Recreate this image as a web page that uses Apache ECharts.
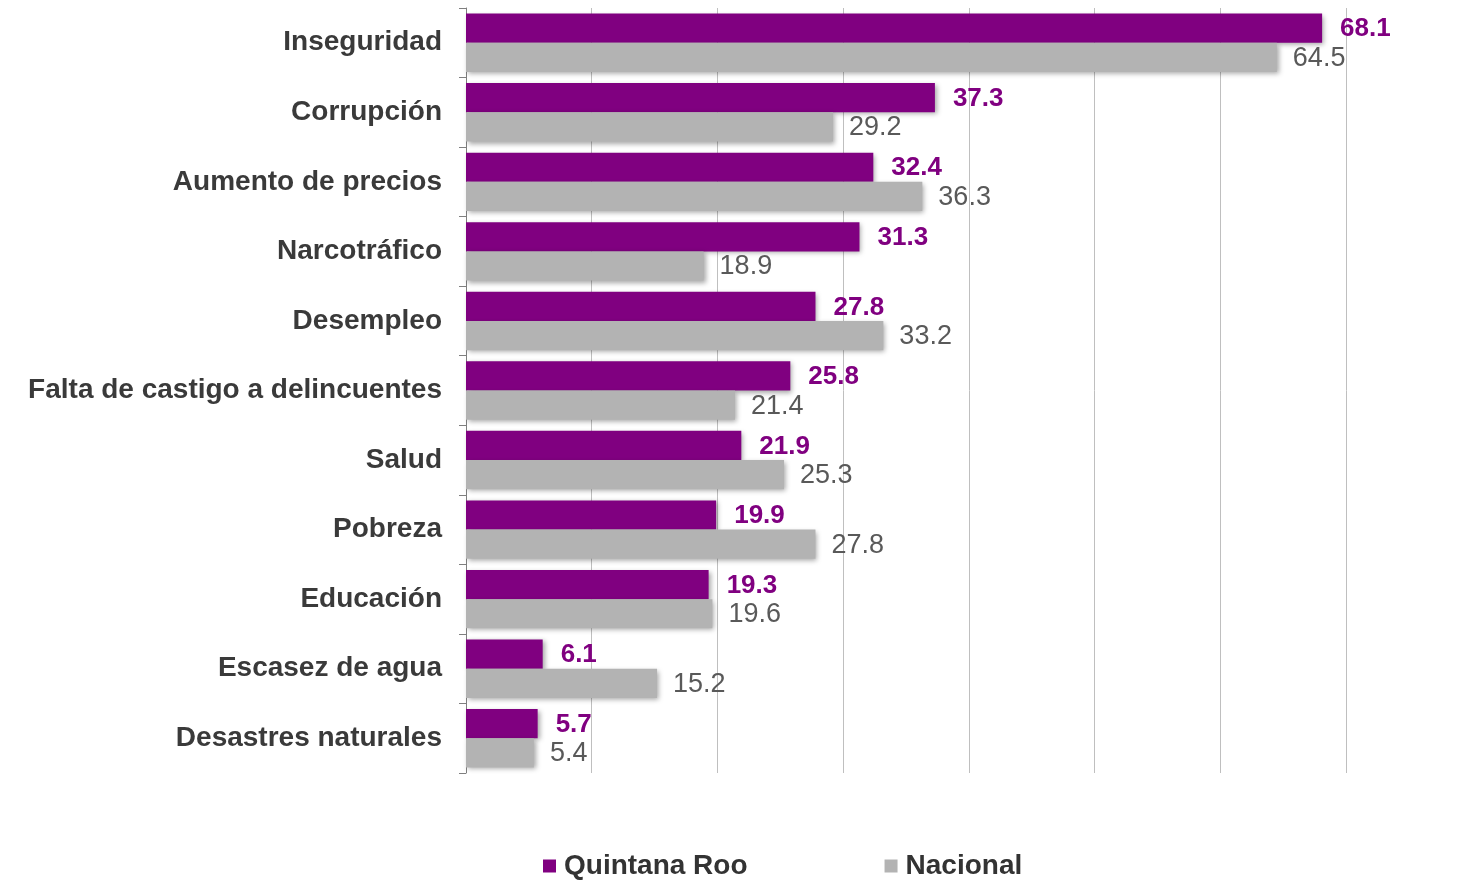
<!DOCTYPE html>
<html>
<head>
<meta charset="utf-8">
<script src="https://cdn.jsdelivr.net/npm/echarts@6/dist/echarts.min.js"></script>
<style>
  html, body { margin: 0; padding: 0; background: #fff; }
  #chart { width: 1458px; height: 881px; }
</style>
</head>
<body>
<div id="chart"></div>
<script>
var categories = ['Inseguridad', 'Corrupción', 'Aumento de precios', 'Narcotráfico', 'Desempleo',
    'Falta de castigo a delincuentes', 'Salud', 'Pobreza', 'Educación', 'Escasez de agua', 'Desastres naturales'];
var quintanaRoo = [68.1, 37.3, 32.4, 31.3, 27.8, 25.8, 21.9, 19.9, 19.3, 6.1, 5.7];
var nacional = [64.5, 29.2, 36.3, 18.9, 33.2, 21.4, 25.3, 27.8, 19.6, 15.2, 5.4];

var chart = echarts.init(document.getElementById('chart'));
var option = {
    animation: false,
    textStyle: { fontFamily: 'Liberation Sans, Arial, sans-serif' },
    grid: { left: 466, right: 112, top: 8, bottom: 108 },
    legend: {
        data: ['Quintana Roo', 'Nacional'],
        top: 847,
        left: 538,
        itemWidth: 13,
        itemHeight: 13,
        itemGap: 137,
        icon: 'rect',
        textStyle: { fontSize: 28, color: '#333', fontWeight: 'bold', padding: [0, 0, 0, 3] }
    },
    xAxis: {
        type: 'value',
        min: 0,
        max: 70,
        interval: 10,
        axisLabel: { show: false },
        axisLine: { show: false },
        axisTick: { show: false },
        splitLine: { lineStyle: { color: '#bfbfbf', width: 1 } }
    },
    yAxis: {
        type: 'category',
        data: categories,
        inverse: true,
        axisLine: { show: true, lineStyle: { color: '#7f7f7f', width: 1 } },
        axisTick: { show: true, length: 7, lineStyle: { color: '#7f7f7f' } },
        axisLabel: { fontSize: 28, color: '#3a3a3a', fontWeight: 'bold', margin: 24 }
    },
    series: [
        {
            name: 'Quintana Roo',
            type: 'bar',
            data: quintanaRoo,
            barGap: '0%',
            barCategoryGap: '16%',
            itemStyle: {
                color: '#800080',
                shadowColor: 'rgba(0,0,0,0.35)',
                shadowBlur: 5,
                shadowOffsetX: 2,
                shadowOffsetY: 2
            },
            label: {
                show: true,
                position: 'right',
                distance: 18,
                fontSize: 26,
                fontWeight: 'bold',
                color: '#800080',
                offset: [0, 1]
            }
        },
        {
            name: 'Nacional',
            type: 'bar',
            data: nacional,
            itemStyle: {
                color: '#b3b3b3',
                shadowColor: 'rgba(0,0,0,0.35)',
                shadowBlur: 5,
                shadowOffsetX: 2,
                shadowOffsetY: 2
            },
            label: {
                show: true,
                position: 'right',
                distance: 16,
                fontSize: 27,
                color: '#595959',
                offset: [0, 1]
            }
        }
    ]
};
chart.setOption(option);
</script>
</body>
</html>
